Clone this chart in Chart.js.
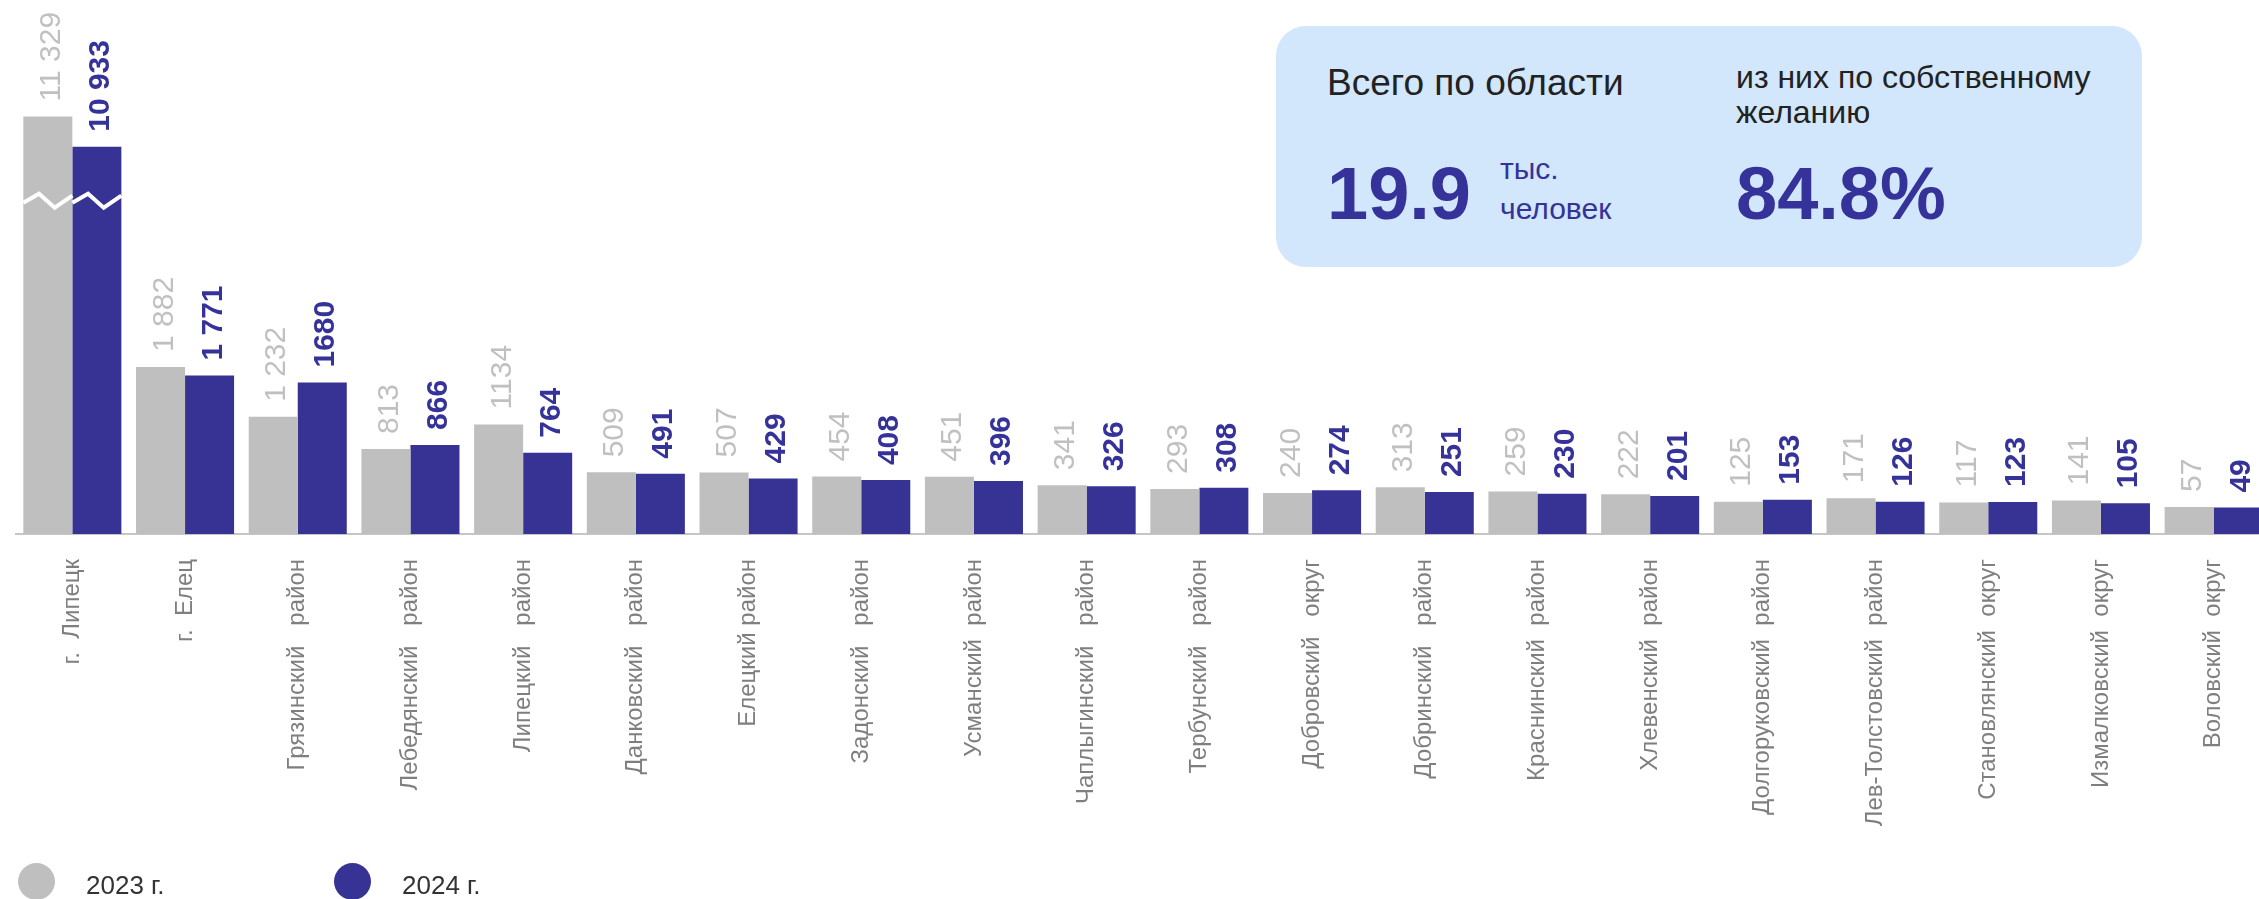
<!DOCTYPE html>
<html lang="ru">
<head>
<meta charset="utf-8">
<script src="https://cdn.jsdelivr.net/npm/chart.js@4.4.1/dist/chart.umd.min.js"></script>
<style>
  html, body { margin: 0; padding: 0; width: 2259px; height: 899px; overflow: hidden; background: #fff; }
  body { font-family: "Liberation Sans", Arial, sans-serif; }
  #wrap { position: absolute; left: 0; top: 0; width: 2272px; height: 899px; }
  .box { position: absolute; left: 1276px; top: 26px; width: 866px; height: 241px; border-radius: 30px; background: #d2e6fc; }
  .t { position: absolute; white-space: nowrap; line-height: 1; }
  .dark { color: #222; }
  .blue { color: #35329a; }
  .legend { position: absolute; top: 863px; left: 0; }
  .dot { position: absolute; width: 37px; height: 37px; border-radius: 50%; }
  .lt { position: absolute; font-size: 26px; color: #333; white-space: nowrap; line-height: 1; top: 9px; }
</style>
</head>
<body>
<div id="wrap"><canvas id="chartUvol"></canvas></div>

<div class="box">
  <div class="t dark" style="left:51px; top:38px; font-size:37px;">Всего по области</div>
  <div class="t dark" style="left:460px; top:35px; font-size:32px;">из них по собственному</div>
  <div class="t dark" style="left:460px; top:70px; font-size:32px;">желанию</div>
  <div class="t blue" style="left:51px; top:131px; font-size:74px; font-weight:bold;">19.9</div>
  <div class="t blue" style="left:224px; top:128px; font-size:30px;">тыс.</div>
  <div class="t blue" style="left:224px; top:168px; font-size:30px;">человек</div>
  <div class="t blue" style="left:460px; top:131px; font-size:74px; font-weight:bold;">84.8%</div>
</div>

<div class="legend">
  <div class="dot" style="left:18px; background:#bfbfbf;"></div>
  <div class="lt" style="left:86px;">2023 г.</div>
  <div class="dot" style="left:334px; background:#373394;"></div>
  <div class="lt" style="left:402px;">2024 г.</div>
</div>

<script>
const regions = ['г.  Липецк', 'г.  Елец', 'Грязинский   район', 'Лебедянский   район', 'Липецкий   район',
  'Данковский   район', 'Елецкий район', 'Задонский   район', 'Усманский  район', 'Чаплыгинский   район',
  'Тербунский   район', 'Добровский   округ', 'Добринский   район', 'Краснинский  район', 'Хлевенский  район',
  'Долгоруковский  район', 'Лев-Толстовский  район', 'Становлянский  округ', 'Измалковский  округ', 'Воловский  округ'];

const uvol2023 = [11329, 1882, 1232, 813, 1134, 509, 507, 454, 451, 341, 293, 240, 313, 259, 222, 125, 171, 117, 141, 57];
const uvol2024 = [10933, 1771, 1680, 866, 764, 491, 429, 408, 396, 326, 308, 274, 251, 230, 201, 153, 126, 123, 105, 49];

// подписи как в исходнике (разделители разрядов не везде)
const text2023 = ['11 329', '1 882', '1 232', '813', '1134', '509', '507', '454', '451', '341', '293', '240', '313', '259', '222', '125', '171', '117', '141', '57'];
const text2024 = ['10 933', '1 771', '1680', '866', '764', '491', '429', '408', '396', '326', '308', '274', '251', '230', '201', '153', '126', '123', '105', '49'];

// разрыв оси для Липецка
const BREAK_AT = 4050;
const CUT = 6180;
const cutVal = v => v > BREAK_AT + CUT ? v - CUT : v;

const GRAY = '#bfbfbf';
const BLUE = '#373394';

const valueLabels = {
  id: 'valueLabels',
  afterDatasetsDraw(chart) {
    const ctx = chart.ctx;
    const texts = [text2023, text2024];
    const colors = ['#c0c0c0', '#35329a'];
    const weights = ['normal', 'bold'];
    chart.data.datasets.forEach((ds, di) => {
      chart.getDatasetMeta(di).data.forEach((bar, i) => {
        ctx.save();
        ctx.font = weights[di] + ' 30px "Liberation Sans", Arial, sans-serif';
        ctx.fillStyle = colors[di];
        ctx.translate(bar.x, bar.y - 15);
        ctx.rotate(-Math.PI / 2);
        ctx.textAlign = 'left';
        ctx.textBaseline = 'alphabetic';
        ctx.fillText(texts[di][i], 0, 12);
        ctx.restore();
      });
    });
    // зигзаг разрыва
    const yb = chart.scales.y.getPixelForValue(BREAK_AT);
    ctx.save();
    ctx.strokeStyle = '#fff';
    ctx.lineWidth = 4;
    chart.data.datasets.forEach((ds, di) => {
      const bar = chart.getDatasetMeta(di).data[0];
      const x0 = bar.x - bar.width / 2;
      const w = bar.width;
      ctx.beginPath();
      ctx.moveTo(x0, yb + 2);
      ctx.lineTo(x0 + w * 0.32, yb - 7);
      ctx.lineTo(x0 + w * 0.64, yb + 7);
      ctx.lineTo(x0 + w, yb - 5);
      ctx.stroke();
    });
    ctx.restore();
  }
};

new Chart(document.getElementById('chartUvol'), {
  type: 'bar',
  data: {
    labels: regions,
    datasets: [{
      label: '2023 г.',
      data: uvol2023.map(cutVal),
      backgroundColor: GRAY,
      base: -295
    }, {
      label: '2024 г.',
      data: uvol2024.map(cutVal),
      backgroundColor: BLUE,
      base: -295
    }]
  },
  options: {
    responsive: true,
    maintainAspectRatio: false,
    animation: false,
    events: [],
    barPercentage: 1.0,
    categoryPercentage: 0.87,
    layout: { padding: { left: 16, right: 2, top: 100, bottom: 0 } },
    plugins: {
      legend: { display: false },
      tooltip: { enabled: false }
    },
    scales: {
      x: {
        grid: { display: false, drawTicks: false },
        border: { display: true, color: '#c6c6c6', width: 2 },
        ticks: {
          autoSkip: false,
          minRotation: 90,
          maxRotation: 90,
          padding: 25,
          color: '#7f7f7f',
          font: { family: '"Liberation Sans", Arial, sans-serif', size: 24 }
        },
        afterFit(scale) { scale.height = 365; }
      },
      y: {
        display: false,
        min: -295,
        max: 5363
      }
    }
  },
  plugins: [valueLabels]
});
</script>
</body>
</html>
